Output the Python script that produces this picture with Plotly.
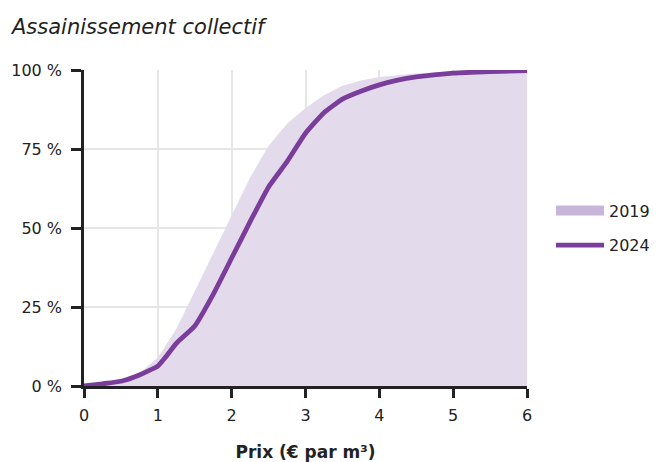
import plotly.graph_objects as go

x_2019 = [0, 0.25, 0.5, 0.75, 1.0, 1.25, 1.5, 1.75, 2.0, 2.25, 2.5, 2.75, 3.0, 3.25, 3.5, 3.75, 4.0, 4.5, 5.0, 5.5, 6.0]
y_2019 = [0, 0.5, 1.5, 4, 9, 18, 30, 42, 54, 66, 76, 83, 88, 92, 95, 96.7, 97.8, 98.9, 99.5, 99.8, 100]

x_2024 = [0, 0.25, 0.5, 0.75, 1.0, 1.1, 1.25, 1.5, 1.75, 2.0, 2.25, 2.5, 2.75, 3.0, 3.25, 3.5, 3.75, 4.0, 4.25, 4.5, 5.0, 5.5, 6.0]
y_2024 = [0, 0.7, 1.5, 3.5, 6.3, 9, 13.5, 19, 29, 40.5, 52, 63, 71, 80, 86.5, 90.8, 93.3, 95.3, 96.8, 97.8, 99.0, 99.5, 99.8]

x_ticks = [0, 1, 2, 3, 4, 5, 6]
y_ticks = [0, 25, 50, 75, 100]
y_tick_labels = ["0 %", "25 %", "50 %", "75 %", "100 %"]

title_text = "Assainissement collectif"
x_title = "<b>Prix (€ par m³)</b>"

FONT = "DejaVu Sans"
TXT = "#222222"
W, H = 649, 454

fig = go.Figure()
fig.add_trace(go.Scatter(
    x=x_2019, y=y_2019, mode="lines", fill="tozeroy",
    line=dict(width=0, color="rgba(0,0,0,0)"),
    fillcolor="#e3dbec", showlegend=False, hoverinfo="skip",
))
fig.add_trace(go.Scatter(
    x=[None], y=[None], mode="lines", name="2019",
    line=dict(width=16, color="#c8b6da"), legendgroup="a",
))
fig.add_trace(go.Scatter(
    x=x_2024, y=y_2024, mode="lines", name="2024",
    line=dict(width=4.8, color="#7b3d9b", shape="spline", smoothing=0.4),
    legendgroup="b",
))

fig.update_layout(
    width=W, height=H,
    margin=dict(l=76, r=130, t=62, b=76, autoexpand=False),
    paper_bgcolor="white", plot_bgcolor="white",
    font=dict(family=FONT, size=16, color=TXT),
    title=dict(text="<i>" + title_text + "</i>", xref="container", x=4 / W, xanchor="left",
               yref="container", y=1 - 19 / H, yanchor="middle", pad=dict(l=0, t=0, b=0, r=0),
               font=dict(size=21, color=TXT, family=FONT)),
    legend=dict(xref="container", x=543 / W, xanchor="left",
                yref="container", y=1 - 220 / H, yanchor="middle",
                font=dict(size=16, color=TXT), itemwidth=48,
                tracegroupgap=11, bgcolor="rgba(0,0,0,0)"),
    xaxis=dict(range=[0, 6], tickvals=x_ticks, showgrid=True, automargin=False,
               gridcolor="#e6e6e6", gridwidth=2, zeroline=False,
               showline=True, linecolor="#222222", linewidth=2.5,
               ticks="outside", ticklen=9, tickwidth=2.5, tickcolor="#222222",
               tickfont=dict(size=16, color=TXT), ticklabelstandoff=4,
               title=dict(text=x_title, font=dict(size=17, color=TXT), standoff=26)),
    yaxis=dict(range=[0, 100], tickvals=y_ticks, ticktext=y_tick_labels,
               showgrid=True, gridcolor="#e6e6e6", gridwidth=2, zeroline=False,
               automargin=False,
               showline=True, linecolor="#222222", linewidth=2.5,
               ticks="outside", ticklen=10, tickwidth=2.5, tickcolor="#222222",
               tickfont=dict(size=16, color=TXT), ticklabelstandoff=6),
)

fig.write_html("out.html")
